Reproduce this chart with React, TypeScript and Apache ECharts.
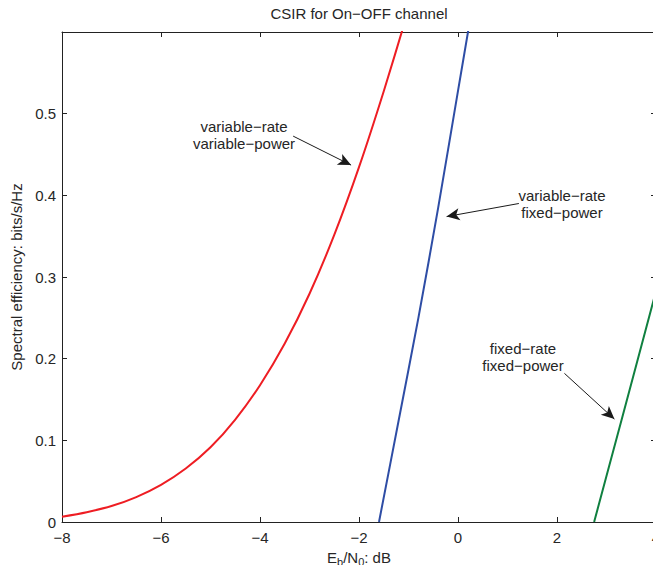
import React, { useEffect, useRef } from "react";
import * as echarts from "echarts";

// ---- data ----
const xTickValues = [-8, -6, -4, -2, 0, 2, 4];
const yTickLabels = ["0", "0.1", "0.2", "0.3", "0.4", "0.5"];

const redX = [-8, -7.5, -7, -6.5, -6, -5.5, -5, -4.5, -4, -3.5, -3, -2.5, -2, -1.5, -1.0];
const redY = [0.0065, 0.012, 0.0195, 0.0305, 0.0455, 0.0655, 0.0915, 0.1255, 0.1675, 0.2185, 0.2795, 0.3515, 0.4345, 0.5275, 0.6275];

const blueX = [-1.596, -1.2, -0.8, -0.4, 0, 0.3];
const blueY = [0, 0.124, 0.25, 0.385, 0.528, 0.635];

const greenX = [2.75, 3.3, 3.94, 4.0];
const greenY = [0, 0.124, 0.269, 0.283];

// arrows: [start, end] in data coordinates
const arrowVarVar = [[-3.33, 0.4725], [-2.16, 0.437]];
const arrowVarFixed = [[1.23, 0.39], [-0.23, 0.374]];
const arrowFixedFixed = [[2.15, 0.182], [3.16, 0.126]];

const titleText = "CSIR for On\u2212OFF channel";
const labelVarVar = "variable\u2212rate\nvariable\u2212power";
const labelVarFixed = "variable\u2212rate\nfixed\u2212power";
const labelFixedFixed = "fixed\u2212rate\nfixed\u2212power";

const FONT = '"Liberation Sans", Arial, Helvetica, sans-serif';
const TXT = "#262626";
const AX = "#222222";

function zip(xs: number[], ys: number[]) {
  return xs.map((x, i) => [x, ys[i]]);
}

function arrowMarkLine(a: number[][]) {
  return {
    silent: true,
    symbol: ["none", "arrow"],
    symbolSize: [9, 13],
    label: { show: false },
    lineStyle: { color: "#1a1a1a", width: 1, type: "solid" },
    emphasis: { disabled: true },
    data: [[{ coord: a[0] }, { coord: a[1] }]],
  };
}

const fmtX = (v: number) => {
  if (!xTickValues.includes(v)) return "";
  return v < 0 ? "\u2212" + Math.abs(v) : String(v);
};
const fmtY = (v: number) => {
  const idx = Math.round(v * 10);
  return yTickLabels[idx] ?? "";
};

export default function App() {
  const ref = useRef<HTMLDivElement>(null);
  useEffect(() => {
    if (!ref.current) return;
    const chart = echarts.init(ref.current, undefined, { renderer: "svg" });
    const axisCommon = {
      type: "value",
      axisLine: { show: true, onZero: false, lineStyle: { color: AX, width: 1 } },
      axisTick: { show: true, inside: true, length: 5, lineStyle: { color: AX, width: 1 } },
      splitLine: { show: false },
    };
    chart.setOption({
      animation: false,
      backgroundColor: "#ffffff",
      grid: {
        left: 62,
        top: 32,
        width: 594,
        height: 490,
        containLabel: false,
        outerBoundsMode: "none",
      },
      xAxis: [
        {
          ...axisCommon,
          position: "bottom",
          min: -8,
          max: 4,
          interval: 2,
          axisLabel: {
            show: true,
            formatter: fmtX,
            color: TXT,
            fontSize: 15,
            fontFamily: FONT,
            margin: 8,
            hideOverlap: false,
          },
          name: "{n|E}{s|b}{n|/N}{s|0}{n|: dB}",
          nameLocation: "middle",
          nameGap: 19,
          nameTextStyle: {
            color: TXT,
            fontSize: 15,
            fontFamily: FONT,
            rich: {
              n: { fontSize: 15, fontFamily: FONT, color: TXT },
              s: { fontSize: 11, fontFamily: FONT, color: TXT, padding: [10, 0, 0, 0] },
            },
          },
        },
        {
          ...axisCommon,
          position: "top",
          min: -8,
          max: 4,
          interval: 2,
          axisLabel: { show: false },
        },
      ],
      yAxis: [
        {
          ...axisCommon,
          position: "left",
          min: 0,
          max: 0.6,
          interval: 0.1,
          axisLabel: {
            show: true,
            formatter: fmtY,
            color: TXT,
            fontSize: 15,
            fontFamily: FONT,
            margin: 6,
          },
          name: "Spectral efficiency: bits/s/Hz",
          nameLocation: "middle",
          nameGap: 38,
          nameTextStyle: { color: TXT, fontSize: 15, fontFamily: FONT },
        },
        {
          ...axisCommon,
          position: "right",
          min: 0,
          max: 0.6,
          interval: 0.1,
          axisLabel: { show: false },
        },
      ],
      graphic: [
        {
          type: "text",
          x: 359,
          y: 13,
          style: { text: titleText, fill: TXT, fontSize: 15, fontFamily: FONT, align: "center", verticalAlign: "middle" },
        },
        {
          type: "text",
          x: 244,
          y: 135,
          style: { text: labelVarVar, fill: TXT, fontSize: 15, fontFamily: FONT, align: "center", verticalAlign: "middle", lineHeight: 17 },
        },
        {
          type: "text",
          x: 562,
          y: 204,
          style: { text: labelVarFixed, fill: TXT, fontSize: 15, fontFamily: FONT, align: "center", verticalAlign: "middle", lineHeight: 17 },
        },
        {
          type: "text",
          x: 523,
          y: 357,
          style: { text: labelFixedFixed, fill: TXT, fontSize: 15, fontFamily: FONT, align: "center", verticalAlign: "middle", lineHeight: 17 },
        },
      ],
      series: [
        {
          name: "variable-rate variable-power",
          type: "line",
          xAxisIndex: 0,
          yAxisIndex: 0,
          data: zip(redX, redY),
          smooth: 0.3,
          showSymbol: false,
          symbol: "none",
          clip: true,
          lineStyle: { color: "#ee1d23", width: 2 },
          markLine: arrowMarkLine(arrowVarVar),
        },
        {
          name: "variable-rate fixed-power",
          type: "line",
          xAxisIndex: 0,
          yAxisIndex: 0,
          data: zip(blueX, blueY),
          smooth: 0.3,
          showSymbol: false,
          symbol: "none",
          clip: true,
          lineStyle: { color: "#2e4da5", width: 2 },
          markLine: arrowMarkLine(arrowVarFixed),
        },
        {
          name: "fixed-rate fixed-power",
          type: "line",
          xAxisIndex: 0,
          yAxisIndex: 0,
          data: zip(greenX, greenY),
          smooth: 0.3,
          showSymbol: false,
          symbol: "none",
          clip: true,
          lineStyle: { color: "#108040", width: 2 },
          markLine: arrowMarkLine(arrowFixedFixed),
        },
      ],
    });
    return () => chart.dispose();
  }, []);
  return (
    <div
      ref={ref}
      style={{ position: "fixed", left: 0, top: 0, width: 653, height: 565, background: "#fff" }}
    />
  );
}
